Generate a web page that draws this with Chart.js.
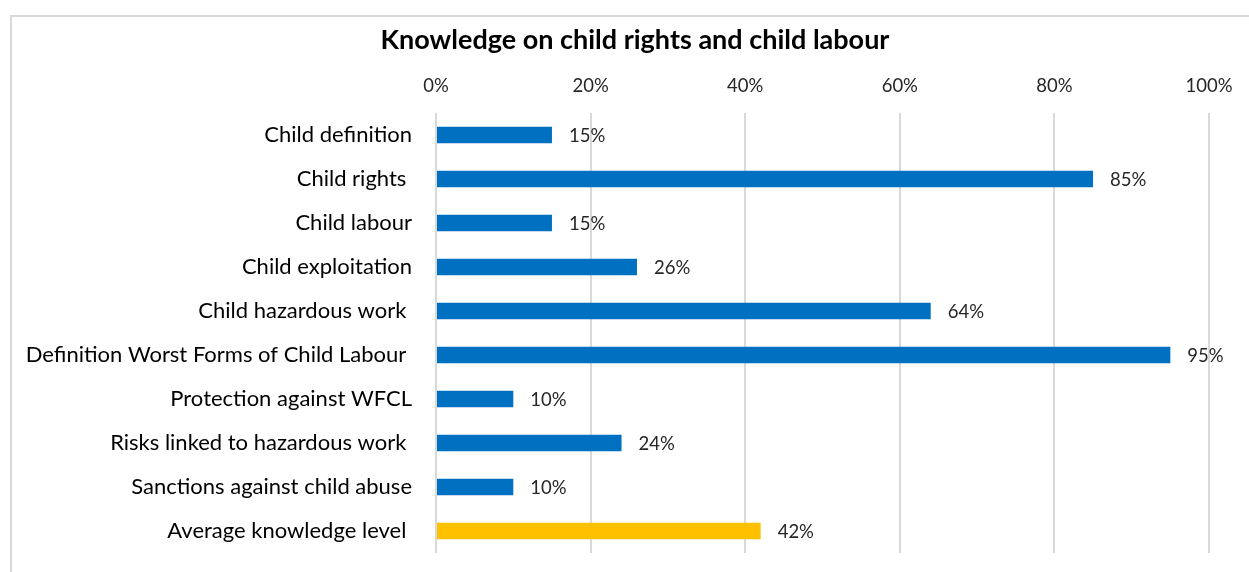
<!DOCTYPE html>
<html>
<head>
<meta charset="utf-8">
<title>Knowledge on child rights and child labour</title>
<script src="https://cdn.jsdelivr.net/npm/chart.js@4/dist/chart.umd.min.js"></script>
<style>
  html, body { margin: 0; padding: 0; background: #fff; overflow: hidden; }
  #wrap { position: relative; width: 1249px; height: 572px; }
  #frame { position: absolute; left: 10px; top: 15px; width: 1400px; height: 700px;
           border: 2px solid #d9d9d9; box-sizing: border-box; }
  canvas { position: absolute; left: 0; top: 0; }
</style>
</head>
<body>
<div id="wrap">
  <div id="frame"></div>
  <canvas id="myChart" width="1249" height="572"></canvas>
</div>
<script>
// 항목 (categories)
var labels = [
    'Child definition',
    'Child rights ',
    'Child labour',
    'Child exploitation',
    'Child hazardous work ',
    'Definition Worst Forms of Child Labour ',
    'Protection against WFCL',
    'Risks linked to hazardous work ',
    'Sanctions against child abuse',
    'Average knowledge level '
];
// 응답 비율 (%)
var datas = [15, 85, 15, 26, 64, 95, 10, 24, 10, 42];
// 축 눈금
var tickValues = [0, 20, 40, 60, 80, 100];
var chart_title = 'Knowledge on child rights and child labour';

var FONT = 'Lato, Carlito, "Open Sans", sans-serif';

// 평균 막대는 노란색, 나머지는 파란색
var barColors = labels.map(function (l) {
    return l.indexOf('Average') === 0 ? '#FFC000' : '#0070C0';
});

// 제목 (플롯 영역 기준 중앙보다 약간 왼쪽)
var titleText = {
    id: 'titleText',
    afterDraw: function (chart) {
        var ctx = chart.ctx;
        ctx.save();
        ctx.font = 'bold 27px ' + FONT;
        ctx.fillStyle = '#000';
        ctx.textAlign = 'center';
        ctx.textBaseline = 'middle';
        ctx.fillText(chart_title, 635, 40);
        ctx.restore();
    }
};

// 막대 끝에 값 표시
var valueLabels = {
    id: 'valueLabels',
    afterDatasetsDraw: function (chart) {
        var ctx = chart.ctx;
        var meta = chart.getDatasetMeta(0);
        ctx.save();
        ctx.font = '18.5px ' + FONT;
        ctx.fillStyle = '#262626';
        ctx.textAlign = 'left';
        ctx.textBaseline = 'middle';
        meta.data.forEach(function (bar, i) {
            ctx.fillText(datas[i] + '%', bar.x + 17, bar.y + 1);
        });
        ctx.restore();
    }
};

// 축 여백 제거
function noPad(scale) {
    scale.paddingTop = 0;
    scale.paddingBottom = 0;
    scale.paddingLeft = 0;
    scale.paddingRight = 0;
}

var ctx = document.getElementById('myChart').getContext('2d');

var myChart = new Chart(ctx, {
    type: 'bar',
    data: {
        labels: labels,
        datasets: [{
            label: chart_title,
            data: datas,
            backgroundColor: barColors,
            borderWidth: 0,
            categoryPercentage: 1,
            barPercentage: 0.37
        }]
    },
    options: {
        indexAxis: 'y',
        responsive: false,
        animation: false,
        layout: { padding: { left: 0, right: 40, top: 56, bottom: 19 } },
        plugins: {
            legend: { display: false },
            tooltip: { enabled: false },
            title: { display: false }
        },
        scales: {
            x: {
                position: 'top',
                min: 0,
                max: 100,
                afterBuildTicks: function (scale) {
                    scale.ticks = tickValues.map(function (v) { return { value: v }; });
                },
                afterFit: function (scale) { scale.height = 57; noPad(scale); },
                grid: { color: '#d9d9d9', lineWidth: 2, drawTicks: false },
                border: { display: false },
                ticks: {
                    padding: 16,
                    color: '#262626',
                    font: { family: FONT, size: 18.5 },
                    callback: function (v) { return v + '%'; }
                }
            },
            y: {
                afterFit: function (scale) { scale.width = 436; noPad(scale); },
                grid: { display: false, drawTicks: false },
                border: { display: false },
                ticks: {
                    padding: 24,
                    color: '#000',
                    font: { family: FONT, size: 22 }
                }
            }
        }
    },
    plugins: [valueLabels, titleText]
});
</script>
</body>
</html>
